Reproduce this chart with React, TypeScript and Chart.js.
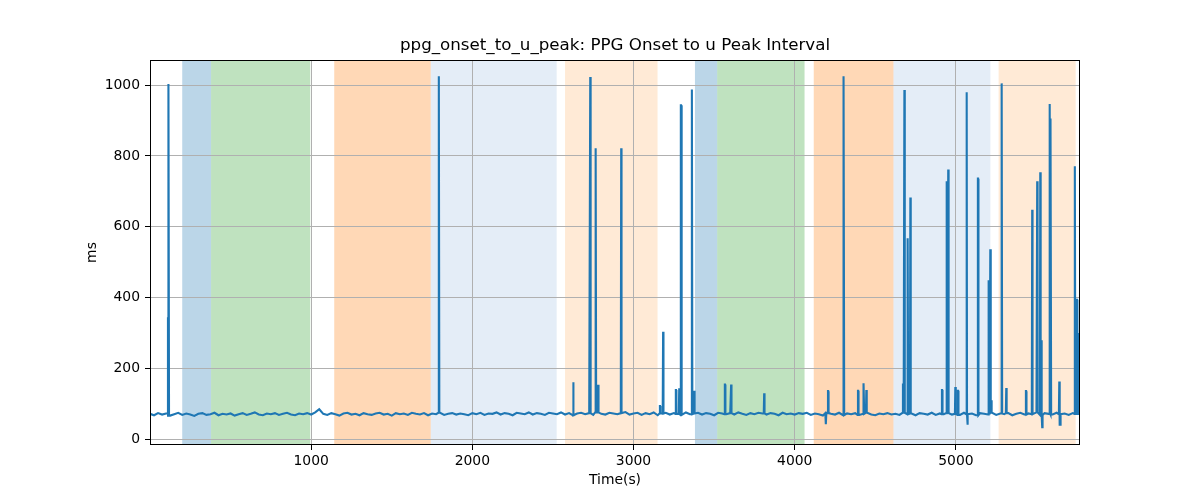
import React, { useEffect, useRef } from "react";
import { Chart, registerables } from "chart.js";

Chart.register(...registerables);

const chartTitle = "ppg_onset_to_u_peak: PPG Onset to u Peak Interval";

// baseline interval, sampled every 25 s from t = 0
const baselineStart = 0;
const baselineStep = 25;
const baselineValues = [
  72, 68, 74, 70, 73, 67, 71, 75, 69, 73, 70, 66, 72, 74, 69, 71, 75, 68, 72, 70, 73, 67, 71, 74, 69, 72, 76, 70, 68, 73, 71, 74, 69, 72, 75, 70, 68, 73, 71, 74,
  70, 76, 85, 72, 69, 74, 71, 67, 73, 75, 70, 72, 68, 74, 71, 69, 73, 75, 70, 72, 67, 74, 71, 73, 69, 75, 72, 70, 74, 68, 73, 71, 75, 69, 72, 74, 70, 73, 71, 68,
  74, 71, 75, 69, 73, 72, 76, 70, 74, 72, 68, 75, 73, 71, 76, 70, 74, 72, 69, 75, 73, 71, 76, 70, 74, 68, 73, 75, 71, 74, 69, 76, 72, 70, 75, 73, 71, 74, 77, 70,
  73, 75, 69, 74, 71, 76, 68, 73, 75, 70, 74, 72, 69, 76, 71, 73, 75, 70, 74, 72, 68, 75, 73, 71, 74, 70, 76, 72, 69, 74, 71, 75, 73, 70, 74, 72, 68, 75, 71, 73,
  70, 74, 72, 75, 69, 73, 71, 67, 74, 72, 70, 75, 68, 73, 71, 74, 69, 72, 75, 70, 68, 73, 71, 74, 70, 72, 69, 75, 71, 73, 68, 74, 72, 70, 75, 69, 73, 71, 74, 70,
  72, 69, 75, 71, 73, 68, 74, 72, 70, 75, 69, 73, 71, 74, 68, 72, 75, 70, 73, 71, 76, 69, 74, 72, 70, 75, 71, 73, 69, 74, 72,
];

// spikes [time (s), interval (ms)]
const spikes: [number, number][] = [
  [112, 345], [115, 1003], [1792, 1025], [2626, 161], [2732, 1023], [2765, 822],
  [2781, 154], [2924, 822], [3164, 94], [3184, 304], [3263, 139], [3284, 144],
  [3294, 943], [3362, 988], [3377, 137], [3567, 155], [3606, 155], [3811, 130],
  [4193, 43], [4207, 136], [4304, 1025], [4393, 137], [4428, 158], [4445, 139],
  [4672, 155], [4681, 986], [4701, 568], [4718, 683], [4914, 139], [4943, 729],
  [4953, 762], [4997, 148], [5013, 137], [5067, 980], [5072, 41], [5137, 736],
  [5205, 446], [5214, 537], [5220, 110], [5284, 1005], [5313, 145], [5435, 136],
  [5474, 648], [5505, 729], [5524, 754], [5530, 280], [5536, 34], [5582, 947],
  [5588, 906], [5642, 163], [5646, 41], [5738, 771], [5751, 394], [5763, 300],
];

// shaded phases
const spanStarts = [200, 379, 1143, 1742, 2575, 3381, 3519, 4118, 4613, 5265];
const spanEnds = [379, 994, 1742, 2523, 3149, 3519, 4061, 4613, 5214, 5743];
const spanKinds = ["A", "B", "C", "D", "E", "A", "B", "C", "D", "E"];

const xTicks = [1000, 2000, 3000, 4000, 5000];
const yTicks = [0, 200, 400, 600, 800, 1000];
const xMin = 0;
const xMax = 5770;
const yMin = -16;
const yMax = 1071;

const spanColors: Record<string, string> = {
  A: "rgba(31,119,180,0.3)",
  B: "rgba(44,160,44,0.3)",
  C: "rgba(255,127,14,0.3)",
  D: "rgba(174,199,232,0.33)",
  E: "rgba(255,187,120,0.3)",
};

const FONT = "'DejaVu Sans', sans-serif";

function buildPoints() {
  const pts: { x: number; y: number }[] = baselineValues.map((v, i) => ({
    x: baselineStart + i * baselineStep,
    y: v,
  }));
  pts.push({ x: xMax, y: baselineValues[baselineValues.length - 1] });
  spikes.forEach(([t, v]) => {
    const idx = Math.min(baselineValues.length - 1, Math.round((t - baselineStart) / baselineStep));
    const base = baselineValues[idx];
    pts.push({ x: t - 3, y: base }, { x: t - 0.5, y: v }, { x: t + 0.5, y: v }, { x: t + 3, y: base });
  });
  return pts.sort((a, b) => a.x - b.x);
}

const spansPlugin = {
  id: "spans",
  beforeDraw(chart: any) {
    const { ctx, chartArea, scales } = chart;
    ctx.save();
    ctx.beginPath();
    ctx.rect(chartArea.left, chartArea.top, chartArea.right - chartArea.left, chartArea.bottom - chartArea.top);
    ctx.clip();
    spanStarts.forEach((s, i) => {
      const x0 = scales.x.getPixelForValue(s);
      const x1 = scales.x.getPixelForValue(spanEnds[i]);
      ctx.fillStyle = spanColors[spanKinds[i]];
      ctx.fillRect(x0, chartArea.top, x1 - x0, chartArea.bottom - chartArea.top);
    });
    ctx.restore();
  },
  afterDraw(chart: any) {
    const { ctx, chartArea } = chart;
    ctx.save();
    ctx.strokeStyle = "#000";
    ctx.lineWidth = 1;
    ctx.strokeRect(
      Math.round(chartArea.left) + 0.5,
      Math.round(chartArea.top) + 0.5,
      Math.round(chartArea.right - chartArea.left) - 1,
      Math.round(chartArea.bottom - chartArea.top) - 1
    );
    ctx.fillStyle = "#000";
    ctx.font = `16.7px ${FONT}`;
    ctx.textAlign = "center";
    ctx.textBaseline = "middle";
    ctx.fillText(chartTitle, (chartArea.left + chartArea.right) / 2, 46);
    ctx.restore();
  },
};

const App = () => {
  const canvasRef = useRef<HTMLCanvasElement>(null);

  useEffect(() => {
    const ctx = canvasRef.current!.getContext("2d")!;
    const chart = new Chart(ctx, {
      type: "line",
      data: {
        datasets: [
          {
            data: buildPoints(),
            borderColor: "#1f77b4",
            borderWidth: 2.1,
            pointRadius: 0,
            tension: 0,
          },
        ],
      },
      options: {
        responsive: false,
        animation: false,
        layout: { padding: { left: 0, right: 120, top: 60, bottom: 0 } },
        plugins: {
          legend: { display: false },
          title: { display: false },
          tooltip: { enabled: false },
        },
        scales: {
          x: {
            type: "linear",
            min: xMin,
            max: xMax,
            afterBuildTicks: (scale: any) => {
              scale.ticks = xTicks.map((v) => ({ value: v }));
            },
            afterFit: (scale: any) => {
              scale.height = 55;
            },
            grid: { color: "#b0b0b0", lineWidth: 1, tickColor: "#000", tickLength: 5 },
            border: { display: false },
            ticks: {
              color: "#000",
              padding: 3,
              font: { family: FONT, size: 13.9 },
              maxRotation: 0,
              callback: (v: any) => String(v),
            },
            title: {
              display: true,
              text: "Time(s)",
              color: "#000",
              font: { family: FONT, size: 13.9 },
              padding: { top: 0, bottom: 11 },
            },
          },
          y: {
            min: yMin,
            max: yMax,
            afterBuildTicks: (scale: any) => {
              scale.ticks = yTicks.map((v) => ({ value: v }));
            },
            afterFit: (scale: any) => {
              scale.width = 150;
            },
            grid: { color: "#b0b0b0", lineWidth: 1, tickColor: "#000", tickLength: 5 },
            border: { display: false },
            ticks: {
              color: "#000",
              padding: 5,
              font: { family: FONT, size: 13.9 },
              callback: (v: any) => String(v),
            },
            title: {
              display: true,
              text: "ms",
              color: "#000",
              font: { family: FONT, size: 13.9 },
              padding: { top: 84, bottom: 0 },
            },
          },
        },
      },
      plugins: [spansPlugin],
    });
    return () => {
      chart.destroy();
    };
  }, []);

  return (
    <div style={{ position: "absolute", left: 0, top: 0, width: 1200, height: 500, background: "#fff" }}>
      <canvas ref={canvasRef} width={1200} height={500} style={{ display: "block" }}></canvas>
    </div>
  );
};

export default App;
